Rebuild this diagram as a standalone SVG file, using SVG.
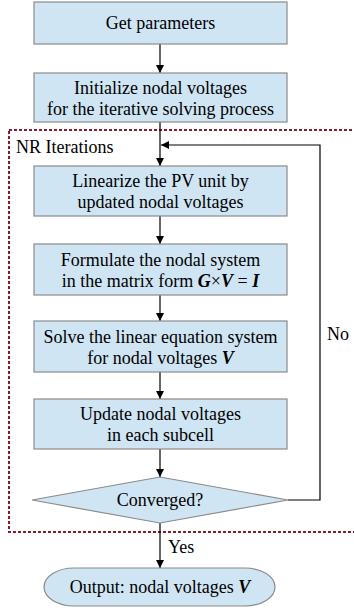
<svg xmlns="http://www.w3.org/2000/svg" width="354" height="608" viewBox="0 0 354 608">
<style>
.box{fill:#cfe5f3;stroke:#8a8a8a;stroke-width:1.2}
text{font-family:"Liberation Serif","DejaVu Serif","Times New Roman",serif;font-size:18px;fill:#000}
.t{text-anchor:middle}
.s{text-anchor:start}
.m{font-weight:bold;font-style:italic}
.c{stroke:#000;stroke-width:1.2;fill:none}
</style>
<defs>
<marker id="ah" markerWidth="8" markerHeight="10" refX="8" refY="5" orient="auto" markerUnits="userSpaceOnUse">
<path d="M0,1 L8,5 L0,9 Z" fill="#000"/>
</marker>
</defs>
<rect x="9" y="130" width="360" height="402" fill="none" stroke="#8b1a2e" stroke-width="2" stroke-dasharray="3,2"/>
<text x="16" y="153" class="s">NR Iterations</text>
<g id="connectors">
<line class="c" x1="160" y1="44" x2="160" y2="73" marker-end="url(#ah)"/>
<line class="c" x1="160" y1="122" x2="160" y2="166" marker-end="url(#ah)"/>
<line class="c" x1="160" y1="216" x2="160" y2="244" marker-end="url(#ah)"/>
<line class="c" x1="160" y1="295" x2="160" y2="321" marker-end="url(#ah)"/>
<line class="c" x1="160" y1="372" x2="160" y2="399" marker-end="url(#ah)"/>
<line class="c" x1="160" y1="449" x2="160" y2="477" marker-end="url(#ah)"/>
<line class="c" x1="160" y1="523" x2="160" y2="568" marker-end="url(#ah)"/>
<polyline class="c" points="288,500 320,500 320,145 161,145" marker-end="url(#ah)"/>
<text x="327" y="340" class="s">No</text>
<text x="168" y="553" class="s">Yes</text>
</g>
<g id="n1"><rect class="box" x="34" y="2" width="253" height="42"/><text class="t" x="160.5" y="29">Get parameters</text></g>
<g id="n2"><rect class="box" x="34" y="73" width="253" height="49"/><text class="t" x="160.5" y="94">Initialize nodal voltages</text><text class="t" x="160.5" y="115">for the iterative solving process</text></g>
<g id="n3"><rect class="box" x="34" y="166" width="253" height="50"/><text class="t" x="160.5" y="187">Linearize the PV unit by</text><text class="t" x="160.5" y="208">updated nodal voltages</text></g>
<g id="n4"><rect class="box" x="34" y="244" width="253" height="51"/><text class="t" x="160.5" y="266">Formulate the nodal system</text><text class="t" x="160.5" y="287">in the matrix form <tspan class="m">G</tspan>×<tspan class="m">V</tspan> = <tspan class="m">I</tspan></text></g>
<g id="n5"><rect class="box" x="34" y="321" width="253" height="51"/><text class="t" x="160.5" y="343">Solve the linear equation system</text><text class="t" x="160.5" y="364">for nodal voltages <tspan class="m">V</tspan></text></g>
<g id="n6"><rect class="box" x="34" y="399" width="253" height="50"/><text class="t" x="160.5" y="420">Update nodal voltages</text><text class="t" x="160.5" y="441">in each subcell</text></g>
<g id="n7"><polygon class="box" points="160,477 288,500 160,523 32,500"/><text class="t" x="160" y="506">Converged?</text></g>
<g id="n8"><path class="box" d="M74,568 L245,568 A30,19 0 0 1 245,606 L74,606 A30,19 0 0 1 74,568 Z"/><text class="t" x="160" y="593">Output: nodal voltages <tspan class="m">V</tspan></text></g>
</svg>
